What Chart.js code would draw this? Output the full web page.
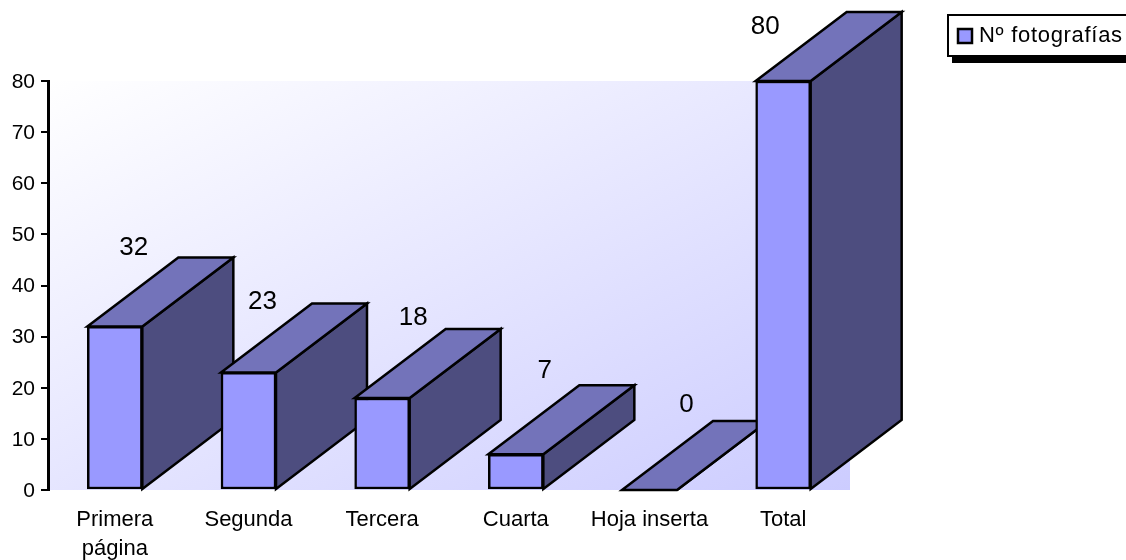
<!DOCTYPE html>
<html>
<head>
<meta charset="utf-8">
<style>
  html, body { margin: 0; padding: 0; background: #fff; overflow: hidden; }
  canvas { display: block; }
</style>
<script src="https://cdn.jsdelivr.net/npm/chart.js@4/dist/chart.umd.min.js"></script>
</head>
<body>
<canvas id="chart" width="1126" height="560"></canvas>
<script>
const categories = [['Primera', 'página'], 'Segunda', 'Tercera', 'Cuarta', 'Hoja inserta', 'Total'];
const seriesName = 'Nº fotografías';
const seriesValues = [32, 23, 18, 7, 0, 80];

const chartColors = Object.freeze({
    FRONT: '#9999ff',
    TOP: '#7373ba',
    SIDE: '#4d4d7f',
    LINE: '#000000',
    BG_START: '#ffffff',
    BG_END: '#ccccff',
});

// Depth of the fake 3D bars
const depthX = 91;
const depthY = -69;

// The labels in the picture don't sit at a regular distance from the bars
const labelOffsets = [[19, -79], [14, -71], [31, -80], [29, -83], [37, -85], [-18, -54]];

const plotBackground = {
    id: 'plotBackground',
    beforeDraw(chart) {
        const { ctx, chartArea: area } = chart;
        const w = area.right - area.left;
        const h = area.bottom - area.top;
        // corner to corner, with the other two corners at the middle colour
        const k = 2 * w * h / (w * w + h * h);
        const gradient = ctx.createLinearGradient(area.left, area.top, area.left + h * k, area.top + w * k);
        gradient.addColorStop(0, chartColors.BG_START);
        gradient.addColorStop(1, chartColors.BG_END);
        ctx.fillStyle = gradient;
        ctx.fillRect(area.left, area.top, w, h);
    }
};

const extrudedBars = {
    id: 'extrudedBars',
    beforeDatasetsDraw(chart) {
        const ctx = chart.ctx;
        ctx.save();
        ctx.strokeStyle = chartColors.LINE;
        ctx.lineWidth = 2.5;
        chart.getDatasetMeta(0).data.forEach((bar) => {
            const left = bar.x - bar.width / 2;
            const right = bar.x + bar.width / 2;
            drawFace(ctx, chartColors.SIDE, [
                [right, bar.y], [right + depthX, bar.y + depthY],
                [right + depthX, bar.base + depthY], [right, bar.base]
            ]);
            drawFace(ctx, chartColors.TOP, [
                [left, bar.y], [left + depthX, bar.y + depthY],
                [right + depthX, bar.y + depthY], [right, bar.y]
            ]);
        });
        ctx.restore();
    },
    afterDatasetsDraw(chart) {
        const ctx = chart.ctx;
        ctx.save();
        ctx.fillStyle = '#000';
        ctx.font = '26px "Liberation Sans"';
        ctx.textAlign = 'center';
        ctx.textBaseline = 'middle';
        chart.getDatasetMeta(0).data.forEach((bar, index) => {
            const offset = labelOffsets[index];
            ctx.fillText(seriesValues[index], bar.x + offset[0], bar.y + offset[1]);
        });
        ctx.restore();
    }
};

const boxLegend = {
    id: 'boxLegend',
    afterDraw(chart) {
        const ctx = chart.ctx;
        ctx.save();
        ctx.fillStyle = '#000';
        ctx.fillRect(952, 20, 180, 43);
        ctx.fillStyle = '#fff';
        ctx.strokeStyle = '#000';
        ctx.lineWidth = 2;
        ctx.fillRect(948, 15, 182, 41);
        ctx.strokeRect(948, 15, 182, 41);
        ctx.fillStyle = chartColors.FRONT;
        ctx.lineWidth = 2.5;
        ctx.fillRect(958, 29, 14, 14);
        ctx.strokeRect(958, 29, 14, 14);
        ctx.fillStyle = '#000';
        ctx.font = '22px "Liberation Sans"';
        ctx.letterSpacing = '0.7px';
        ctx.textBaseline = 'middle';
        ctx.fillText(seriesName, 979, 36);
        ctx.restore();
    }
};

function drawFace(ctx, color, points) {
    ctx.beginPath();
    points.forEach((p, i) => i ? ctx.lineTo(p[0], p[1]) : ctx.moveTo(p[0], p[1]));
    ctx.closePath();
    ctx.fillStyle = color;
    ctx.fill();
    ctx.stroke();
}

new Chart(document.getElementById('chart'), {
    type: 'bar',
    data: {
        labels: categories,
        datasets: [{
            label: seriesName,
            data: seriesValues,
            backgroundColor: chartColors.FRONT,
            borderColor: chartColors.LINE,
            borderWidth: 2.5,
            borderSkipped: false,
            barThickness: 55,
        }]
    },
    options: {
        responsive: false,
        animation: false,
        layout: { padding: { top: 81, right: 276, bottom: 0, left: 0 } },
        plugins: {
            legend: { display: false },
            tooltip: { enabled: false },
        },
        scales: {
            x: {
                afterFit(scale) { scale.height = 70; },
                grid: { display: false },
                border: { display: false },
                ticks: {
                    color: '#000',
                    autoSkip: false,
                    maxRotation: 0,
                    padding: 8,
                    font: { family: 'Liberation Sans', size: 22, lineHeight: 1.3 },
                }
            },
            y: {
                min: 0,
                max: 80,
                afterFit(scale) { scale.width = 48; },
                grid: { drawOnChartArea: false, color: '#000', lineWidth: 2, tickLength: 7 },
                border: { color: '#000', width: 3 },
                ticks: {
                    color: '#000',
                    stepSize: 10,
                    padding: 6,
                    labelOffset: 1,
                    font: { family: 'Liberation Sans', size: 21 },
                }
            }
        }
    },
    plugins: [plotBackground, extrudedBars, boxLegend]
});
</script>
</body>
</html>
